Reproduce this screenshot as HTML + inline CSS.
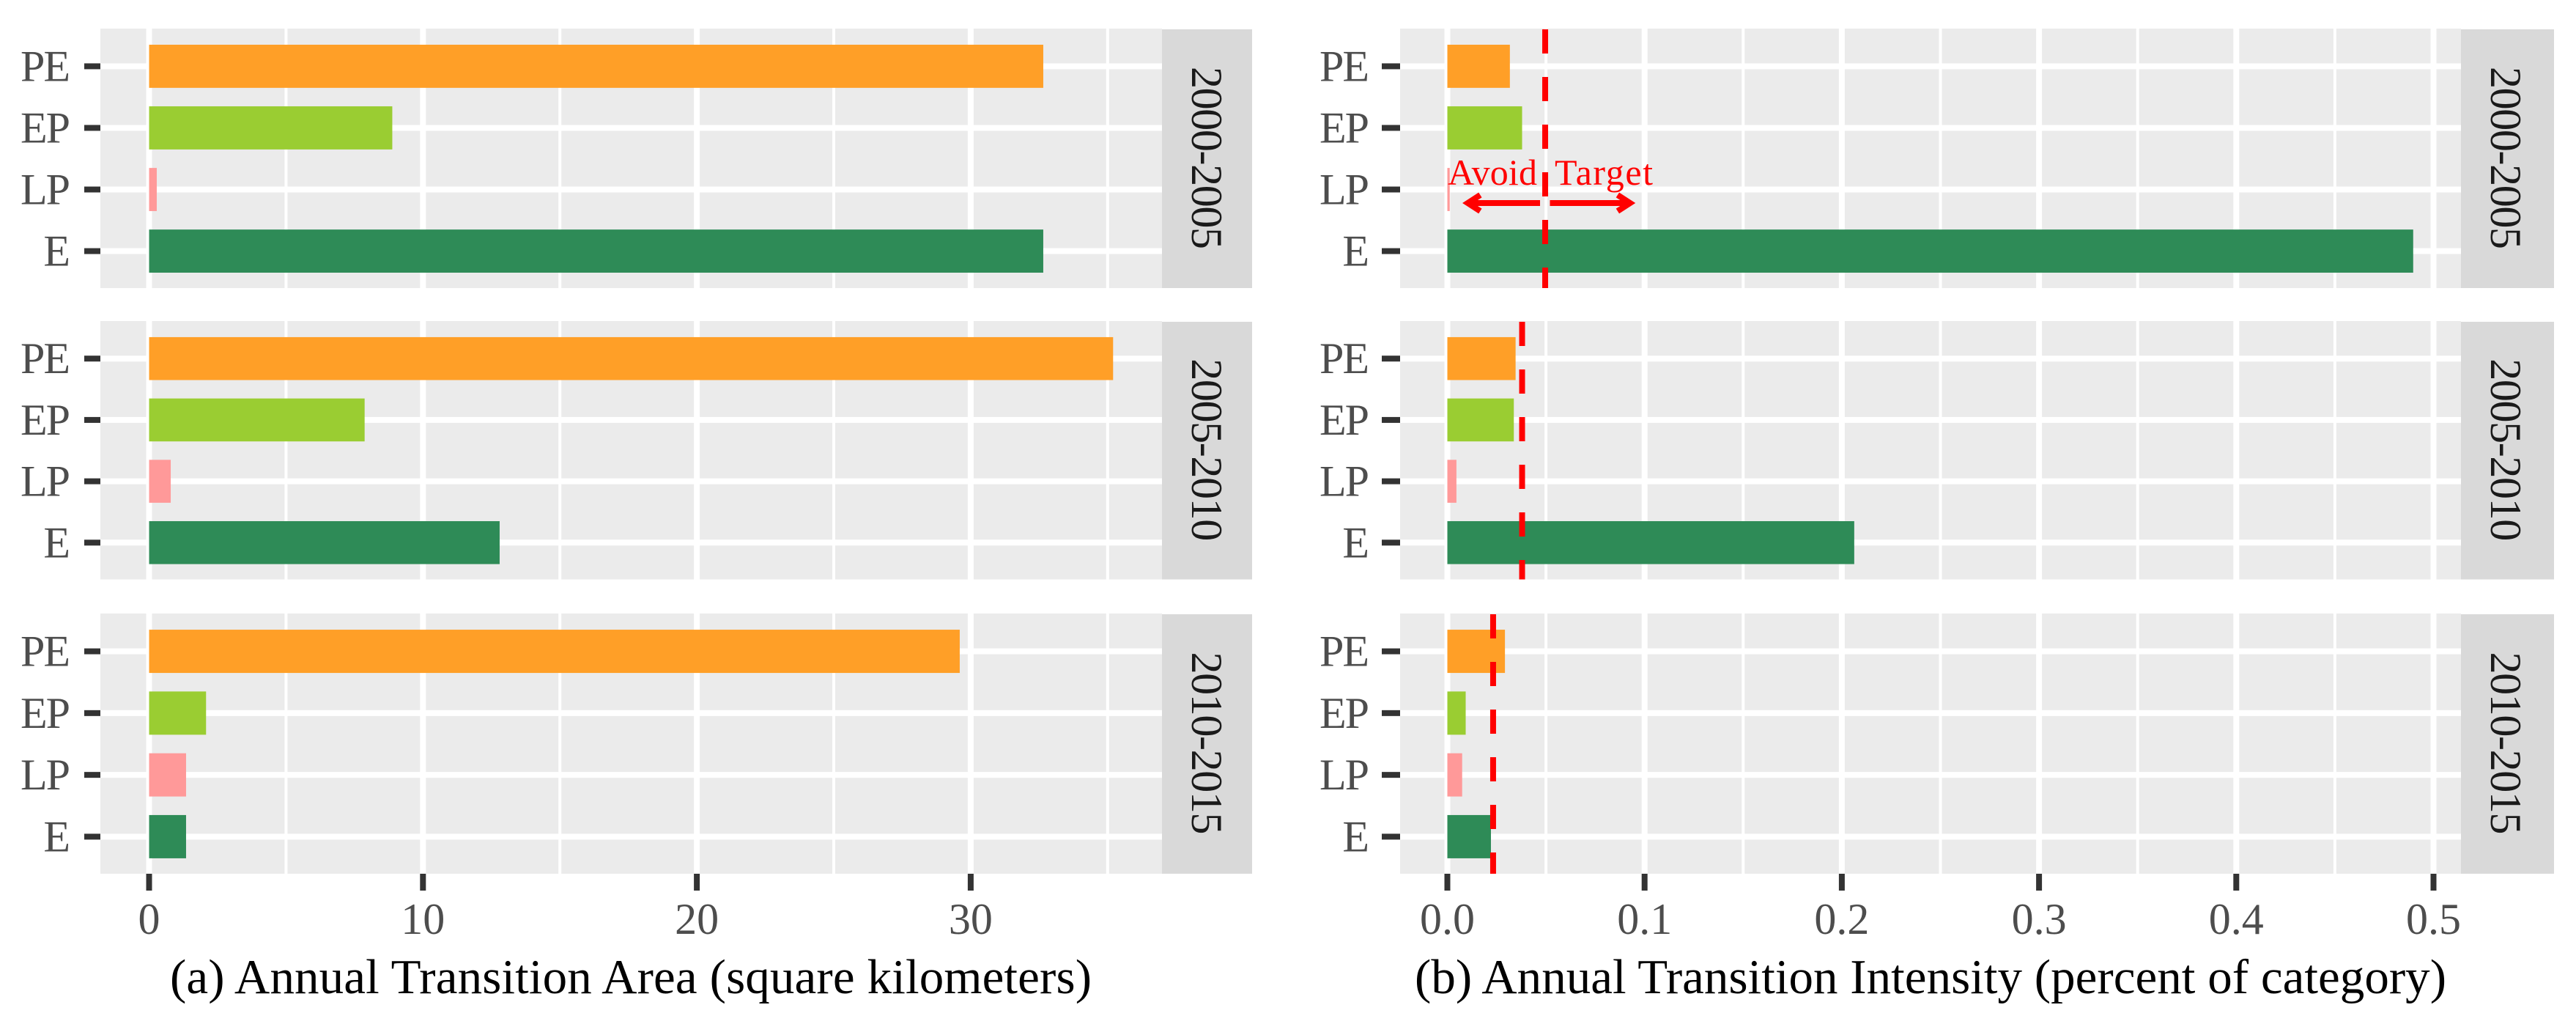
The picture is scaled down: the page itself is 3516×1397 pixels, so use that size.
<!DOCTYPE html>
<html lang="en">
<head>
<meta charset="utf-8">
<title>Annual Transition Area and Intensity</title>
<style>
  html, body { margin: 0; padding: 0; background: #ffffff; }
  svg { display: block; }
  text { font-family: "Liberation Serif", serif; }
</style>
</head>
<body>
<svg id="chart" xmlns="http://www.w3.org/2000/svg" width="3516" height="1397" viewBox="0 0 3516 1397">
  <rect x="0" y="0" width="3516" height="1397" fill="#ffffff"/>
  <g id="plots"></g>
  <text x="232" y="1355" font-size="67" fill="#000000" textLength="1258" lengthAdjust="spacing">(a) Annual Transition Area (square kilometers)</text>
  <text x="1931" y="1355" font-size="67" fill="#000000" textLength="1408" lengthAdjust="spacing">(b) Annual Transition Intensity (percent of category)</text>
  <text x="1976" y="252" font-size="50" fill="#ff0000" textLength="122" lengthAdjust="spacing">Avoid</text>
  <text x="2122" y="252" font-size="50" fill="#ff0000" textLength="134" lengthAdjust="spacing">Target</text>
</svg>
<script>
// ---- data ----
const categories = ['PE', 'EP', 'LP', 'E'];
const periods = ['2000-2005', '2005-2010', '2010-2015'];
const areaP1 = [32.65, 8.88, 0.28, 32.65];
const areaP2 = [35.2, 7.87, 0.79, 12.8];
const areaP3 = [29.6, 2.08, 1.35, 1.35];
const intensityP1 = [0.0317, 0.0379, 0.0012, 0.4897];
const intensityP2 = [0.0346, 0.0337, 0.0046, 0.2063];
const intensityP3 = [0.0292, 0.0093, 0.0075, 0.0221];
const uniformIntensity = [0.0496, 0.0379, 0.0232];
const areaTicks = [0, 10, 20, 30];
const areaMinorTicks = [5, 15, 25, 35];
const intensityTicks = [0, 0.1, 0.2, 0.3, 0.4, 0.5];
const intensityTickLabels = ['0.0', '0.1', '0.2', '0.3', '0.4', '0.5'];
const intensityMinorTicks = [0.05, 0.15, 0.25, 0.35, 0.45];
const avoidArrowRange = [0.0470, 0.0085];
const targetArrowRange = [0.0520, 0.0945];

// ---- layout ----
const colors = ['#ff9f27', '#9acd32', '#ff9999', '#2e8b57'];
const panelTops = [40, 439, 838];
const panelHeights = [353, 351.5, 354];
const leftCol = { left: 137, stripL: 1586, stripR: 1709, x0: 203.5, k: 37.38, textX: 1627, axisRight: 94, tickLen: 22 };
const rightCol = { left: 1911, stripL: 3359, stripR: 3486, x0: 1975.5, k: 2692, textX: 3400, axisRight: 1867, tickLen: 25 };
const root = document.getElementById('plots');
const NS = 'http://www.w3.org/2000/svg';

function xScale(col, v) { return col.x0 + v * col.k; }
function yScale(p, i) {
  const unit = panelHeights[p] / 4.2;
  return panelTops[p] + unit * (0.6 + i);
}
function bandWidth(p) { return panelHeights[p] / 4.2 * 0.7; }

function addRect(x, y, w, h, fill) {
  const el = document.createElementNS(NS, 'rect');
  el.setAttribute('x', x);
  el.setAttribute('y', y);
  el.setAttribute('width', w);
  el.setAttribute('height', h);
  el.setAttribute('fill', fill);
  root.appendChild(el);
  return el;
}
function addText(x, y, str, size, fill, anchor) {
  const el = document.createElementNS(NS, 'text');
  el.setAttribute('x', x);
  el.setAttribute('y', y);
  el.setAttribute('font-size', size);
  el.setAttribute('fill', fill);
  el.setAttribute('text-anchor', anchor);
  el.textContent = str;
  root.appendChild(el);
  return el;
}

function drawPanel(col, p, values, majors, minors, isIntensity) {
  const top = panelTops[p];
  const h = panelHeights[p];
  const bg = addRect(col.left, top - 1, col.stripL - col.left, h + 1, '#ebebeb');
  
  

  minors.forEach(function (v) {
    const line = addRect(xScale(col, v) - 2, top - 1, 4, h + 1, '#ffffff');
    
    
  });
  majors.forEach(function (v) {
    const line = addRect(xScale(col, v) - 4, top - 1, 8, h + 1, '#ffffff');
    
    
  });
  categories.forEach(function (c, i) {
    const cy = yScale(p, i);
    const line = addRect(col.left, cy - 4, col.stripL - col.left, 8, '#ffffff');
    
    

    const tick = addRect(col.left - col.tickLen, cy - 4, col.tickLen, 8, '#333333');
    
    

    const label = addText(col.axisRight, cy + 20, c, 60, '#4d4d4d', 'end');
    label.setAttribute('letter-spacing', '-2');
    
    
  });

  values.forEach(function (v, i) {
    const bw = bandWidth(p);
    const bar = addRect(col.x0, yScale(p, i) - bw / 2, v * col.k, bw, colors[i]);
    
    
  });

  const strip = addRect(col.stripL, top, col.stripR - col.stripL, h, '#d9d9d9');
  
  

  const cy = top + h / 2 - 1;
  const stripText = addText(col.textX, cy, periods[p], 60, '#1a1a1a', 'middle');
  stripText.setAttribute('textLength', '249');
  stripText.setAttribute('lengthAdjust', 'spacing');
  stripText.setAttribute('transform', 'rotate(90 ' + col.textX + ' ' + cy + ')');
  
  

  if (isIntensity) {
    const dash = document.createElementNS(NS, 'line');
    const dx = xScale(col, uniformIntensity[p]);
    dash.setAttribute('x1', dx);
    dash.setAttribute('x2', dx);
    dash.setAttribute('y1', top);
    dash.setAttribute('y2', top + h);
    dash.setAttribute('stroke', '#ff0000');
    dash.setAttribute('stroke-width', 8);
    dash.setAttribute('stroke-dasharray', '33 32');
    
    
    root.appendChild(dash);
  }
}

function drawXAxis(col, ticks, labels) {
  const base = panelTops[2] + panelHeights[2];
  ticks.forEach(function (v, i) {
    const x = xScale(col, v);
    const tick = addRect(x - 4, base, 8, 23, '#333333');
    
    

    const label = addText(x, 1274, labels[i], 60, '#4d4d4d', 'middle');
    
    
  });
}

function drawArrow(range, y) {
  const x1 = xScale(rightCol, range[0]);
  const x2 = xScale(rightCol, range[1]);
  const dir = x2 > x1 ? -1 : 1;
  const tipInset = x2 + dir * 5;
  const path = document.createElementNS(NS, 'path');
  const d = 'M' + x1 + ' ' + y + ' L' + tipInset + ' ' + y +
    ' M' + (x2 + dir * 22) + ' ' + (y - 11) + ' L' + tipInset + ' ' + y + ' L' + (x2 + dir * 22) + ' ' + (y + 11);
  path.setAttribute('d', d);
  path.setAttribute('fill', 'none');
  path.setAttribute('stroke', '#ff0000');
  path.setAttribute('stroke-width', 8);
  
  
  root.appendChild(path);
}

const areaValues = [areaP1, areaP2, areaP3];
const intensityValues = [intensityP1, intensityP2, intensityP3];
periods.forEach(function (name, p) {
  drawPanel(leftCol, p, areaValues[p], areaTicks, areaMinorTicks, false);
  drawPanel(rightCol, p, intensityValues[p], intensityTicks, intensityMinorTicks, true);
});
drawXAxis(leftCol, areaTicks, areaTicks.map(String));
drawXAxis(rightCol, intensityTicks, intensityTickLabels);
drawArrow(avoidArrowRange, 277);
drawArrow(targetArrowRange, 277);
</script>
</body>
</html>
